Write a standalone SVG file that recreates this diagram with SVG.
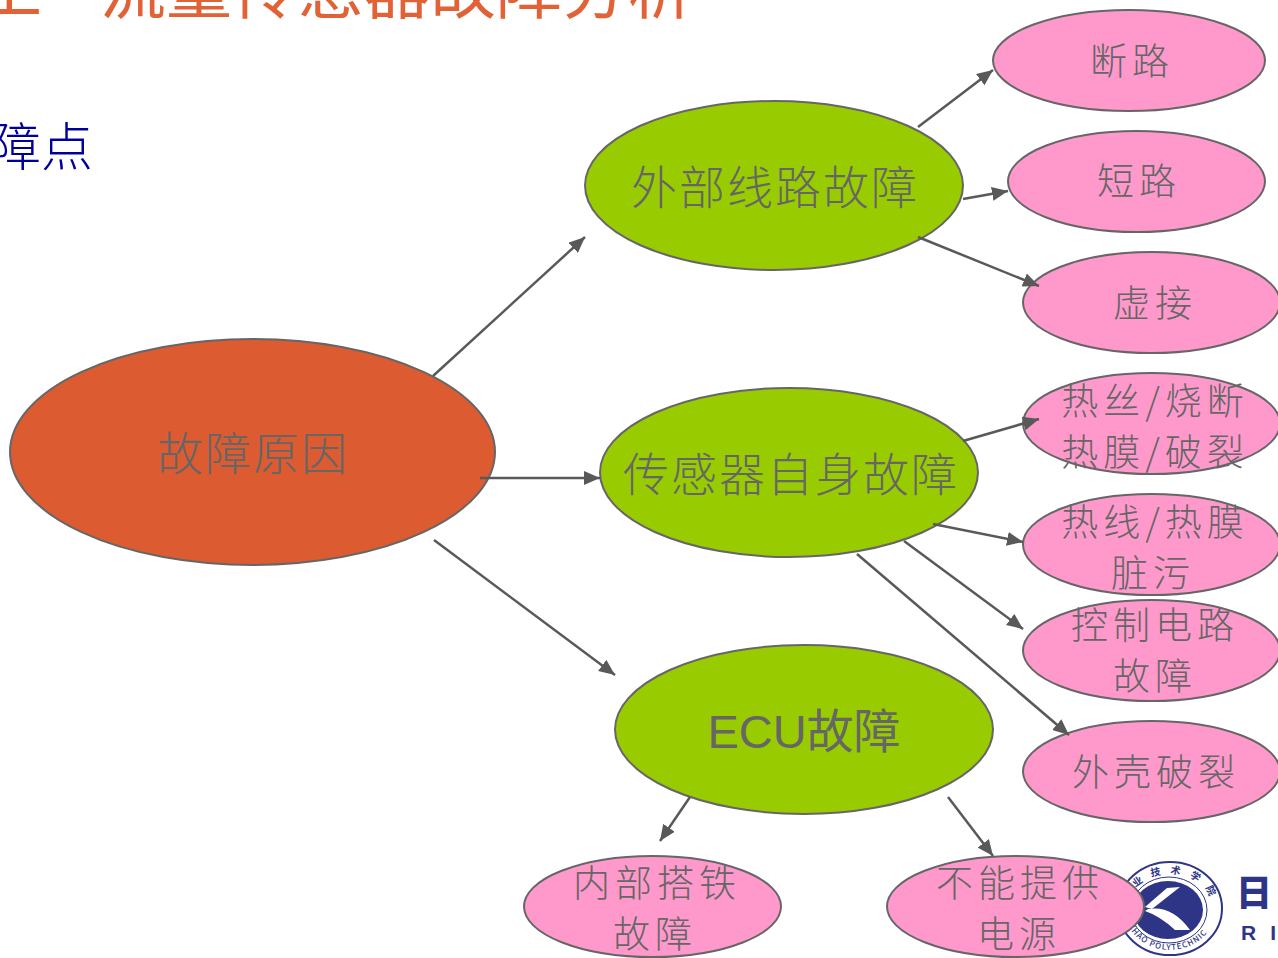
<svg xmlns="http://www.w3.org/2000/svg" width="1278" height="958" viewBox="0 0 1278 958">
<style>
text{font-family:"Noto Sans CJK SC","Noto Sans",sans-serif;text-anchor:middle}
.e{stroke:#666;stroke-width:2}
.o{fill:#DC5B30}.g{fill:#99CC00}.p{fill:#FF99CC}
.t{fill:#666;font-weight:300}
.b{font-size:46px;letter-spacing:2px}.s{font-size:37px;letter-spacing:5px}
.c line{stroke:#595959;stroke-width:2.5;marker-end:url(#a)}
</style>
<defs>
<marker id="a" markerUnits="userSpaceOnUse" markerWidth="17" markerHeight="14" refX="16" refY="7" orient="auto"><path d="M0 0L16 7L0 14Z" fill="#595959"/></marker>
<path id="arcT" d="M1128 908A42 34 0 0 1 1212 908"/>
<path id="arcB" d="M1124 908A46 42 0 0 0 1216 908"/>
</defs>
<g id="title"><text x="-23" y="13" style="text-anchor:start" font-size="65" fill="#E06236">工</text><text x="397" y="13" font-size="66" fill="#E06236">流量传感器故障分析</text></g>
<g id="subtitle"><text x="93" y="166" style="text-anchor:end;font-weight:300" font-size="52" fill="#000099">障点</text></g>
<g id="logo">
<ellipse cx="1170" cy="908.5" rx="52" ry="46.5" fill="#fff" stroke="#2E3586" stroke-width="2"/>
<ellipse cx="1169" cy="910" rx="38" ry="33" fill="none" stroke="#2E3586" stroke-width="1"/>
<ellipse cx="1168" cy="910" rx="35" ry="29" fill="#2E3586"/>
<path d="M1145 907L1167 888L1180 887L1152 909Z" fill="#fff"/>
<path d="M1148 909Q1172 905 1190 930L1175 930Q1160 916 1145 911Z" fill="#fff"/>
<text font-size="8" fill="#2E3586" style="font-weight:500" letter-spacing="1"><textPath href="#arcB" startOffset="46%">IZHAO POLYTECHNIC</textPath></text>
<text font-size="10" fill="#2E3586" style="font-weight:700" letter-spacing="9"><textPath href="#arcT" startOffset="50%">职业技术学院</textPath></text>
<text x="1254" y="906" font-size="36" fill="#2E3586" style="font-weight:900">日</text>
<text x="1241" y="940" font-size="21" fill="#2E3586" letter-spacing="14" style="text-anchor:start;font-family:'Liberation Sans',sans-serif;font-weight:700">RI</text>
</g>
<g id="n0"><ellipse class="e o" cx="252.5" cy="452" rx="242.5" ry="113"/><text class="t b" x="253" y="470">故障原因</text></g>
<g id="n1"><ellipse class="e g" cx="774" cy="185.5" rx="189" ry="84.5"/><text class="t b" x="775" y="204">外部线路故障</text></g>
<g id="n2"><ellipse class="e g" cx="789" cy="472.5" rx="189" ry="84.5"/><text class="t b" x="791" y="491">传感器自身故障</text></g>
<g id="n3"><ellipse class="e g" cx="804" cy="729.5" rx="189" ry="84.5"/><text class="t" x="804" y="748" font-size="47" style="font-family:'Liberation Sans','Noto Sans CJK SC',sans-serif;font-weight:400">ECU故障</text></g>
<g id="n4"><ellipse class="e p" cx="1129" cy="60.5" rx="136" ry="50.5"/><text class="t s" x="1132" y="75">断路</text></g>
<g id="n5"><ellipse class="e p" cx="1136.5" cy="181.5" rx="128.5" ry="50.5"/><text class="t s" x="1139" y="195">短路</text></g>
<g id="n6"><ellipse class="e p" cx="1151.5" cy="302.5" rx="128.5" ry="50.5"/><text class="t s" x="1155" y="317">虚接</text></g>
<g id="n7"><ellipse class="e p" cx="1151.5" cy="423.5" rx="128.5" ry="50.5"/><text class="t s" x="1155" y="415">热丝/烧断</text><text class="t s" x="1155" y="466">热膜/破裂</text></g>
<g id="n8"><ellipse class="e p" cx="1151.5" cy="544.5" rx="128.5" ry="50.5"/><text class="t s" x="1155" y="536">热线/热膜</text><text class="t s" x="1153" y="587">脏污</text></g>
<g id="n9"><ellipse class="e p" cx="1151.5" cy="650.5" rx="128.5" ry="50.5"/><text class="t s" x="1155" y="639">控制电路</text><text class="t s" x="1155" y="690">故障</text></g>
<g id="n10"><ellipse class="e p" cx="1151.5" cy="771.5" rx="128.5" ry="50.5"/><text class="t s" x="1156" y="786">外壳破裂</text></g>
<g id="n11"><ellipse class="e p" cx="652.5" cy="906.5" rx="128.5" ry="50.5"/><text class="t s" x="657" y="897">内部搭铁</text><text class="t s" x="655" y="948">故障</text></g>
<g id="n12"><ellipse class="e p" cx="1015.5" cy="906.5" rx="128.5" ry="50.5"/><text class="t s" x="1020" y="897">不能提供</text><text class="t s" x="1019" y="948">电源</text></g>
<g id="connectors" class="c">
<line x1="433" y1="376" x2="585" y2="237"/>
<line x1="480" y1="478" x2="600" y2="478"/>
<line x1="434" y1="540" x2="615" y2="675"/>
<line x1="918" y1="127" x2="993" y2="70"/>
<line x1="963" y1="199" x2="1008" y2="191"/>
<line x1="918" y1="237" x2="1039" y2="286"/>
<line x1="963" y1="441" x2="1039" y2="419"/>
<line x1="933" y1="524" x2="1023" y2="542"/>
<line x1="904" y1="541" x2="1023" y2="629"/>
<line x1="857" y1="554" x2="1069" y2="735"/>
<line x1="690" y1="797" x2="660" y2="841"/>
<line x1="948" y1="797" x2="993" y2="856"/>
</g>
</svg>
